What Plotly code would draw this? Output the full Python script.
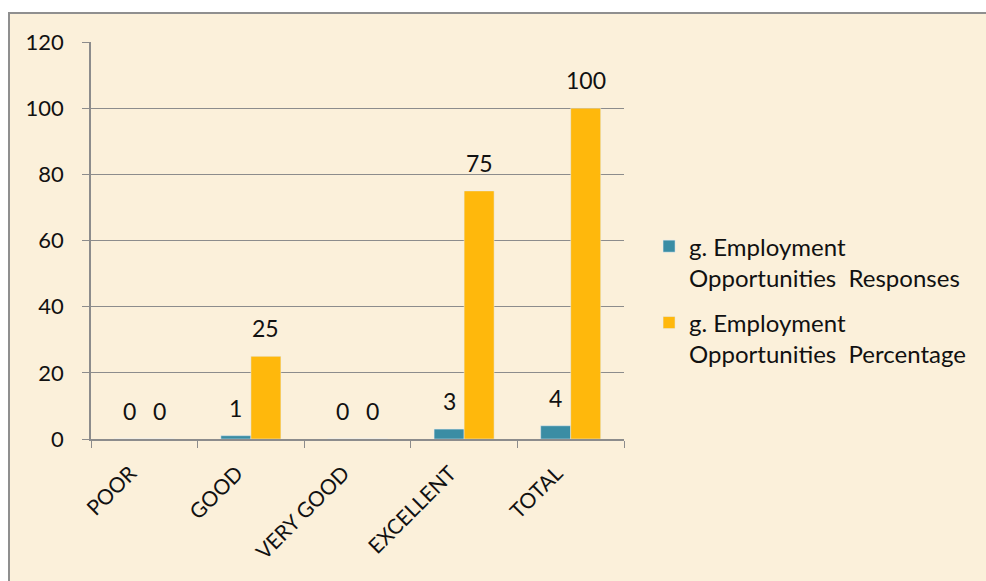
import plotly.graph_objects as go

categories = ["POOR", "GOOD", "VERY GOOD", "EXCELLENT", "TOTAL"]
responses = [0, 1, 0, 3, 4]
percentage = [0, 25, 0, 75, 100]
series_names = [
    "g. Employment<br>Opportunities\u00a0 Responses",
    "g. Employment<br>Opportunities\u00a0 Percentage",
]
y_ticks = [0, 20, 40, 60, 80, 100, 120]

TEAL = "#3A8DA4"
ORANGE = "#FFB80C"
BEIGE = "#FBF0DA"
GRID = "#8C8C8C"
FONT = "Lato, 'Open Sans', sans-serif"

fig = go.Figure()
fig.add_trace(go.Bar(x=categories, y=responses, name=series_names[0], marker_color=TEAL, legendgroup="a"))
fig.add_trace(go.Bar(x=categories, y=percentage, name=series_names[1], marker_color=ORANGE, legendgroup="b"))

# data labels sit a bit above each bar
annotations = []
for vals, dx in ((responses, -15), (percentage, 15)):
    for c, v in zip(categories, vals):
        annotations.append(dict(
            x=c, y=v, xref="x", yref="y", text=str(v), showarrow=False,
            xshift=dx, yshift=28, yanchor="middle",
            font=dict(size=23, color="#111", family=FONT),
        ))

fig.update_layout(
    width=986, height=581,
    barmode="group", bargap=0.437, bargroupgap=0,
    plot_bgcolor="white", paper_bgcolor="white",
    font=dict(family=FONT, color="#111"),
    margin=dict(l=91, r=362, t=42, b=142),
    annotations=annotations,
    legend=dict(
        x=1.047, y=0.35, xanchor="left", yanchor="middle",
        font=dict(size=24, family=FONT, color="#111"),
        valign="top", tracegroupgap=11, itemwidth=30,
        bgcolor="rgba(0,0,0,0)",
    ),
    shapes=[dict(
        type="rect", xref="paper", yref="paper", layer="below",
        x0=-82 / 533, x1=2.0, y0=-0.6, y1=1 + 29 / 397,
        fillcolor=BEIGE, line=dict(color="#8F8F8F", width=2),
    )],
)
fig.update_yaxes(
    range=[0, 120], tickvals=y_ticks, showgrid=True, gridcolor=GRID, gridwidth=1,
    showline=True, linecolor=GRID, linewidth=1.5, ticks="outside", ticklen=7, tickcolor=GRID,
    ticklabelstandoff=14,
    tickfont=dict(size=22, family=FONT, color="#111"), zeroline=False,
)
fig.update_xaxes(
    showline=True, linecolor=GRID, linewidth=1.5, ticks="outside", ticklen=7, tickcolor=GRID,
    tickson="boundaries", tickangle=-45, ticklabelshift=-14, ticklabelstandoff=12,
    tickfont=dict(size=21, family=FONT, color="#111"),
)

fig.write_html(
    "out.html",
    config={"displayModeBar": False},
    post_script="document.body.style.margin='0px';document.body.style.overflow='hidden';",
)
